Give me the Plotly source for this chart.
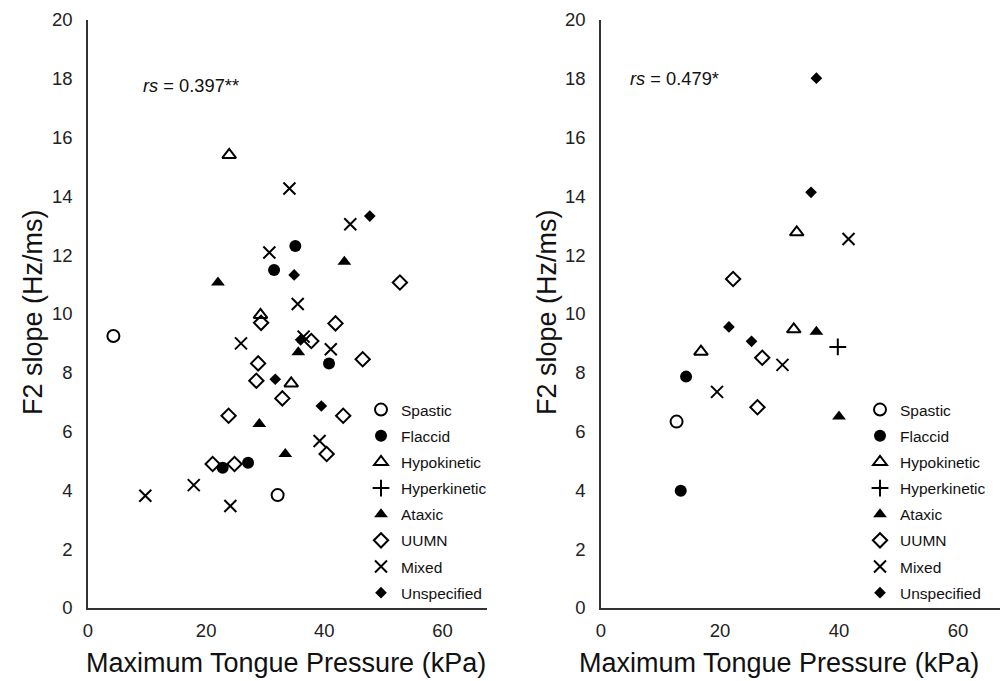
import plotly.graph_objects as go

categories = ["Spastic", "Flaccid", "Hypokinetic", "Hyperkinetic", "Ataxic", "UUMN", "Mixed", "Unspecified"]
symbols = ["circle-open", "circle", "triangle-up-open", "cross-thin-open", "triangle-up", "diamond-open", "x-thin-open", "diamond"]
sizes = [12, 12, 12, 12, 12, 11, 12, 9]

# Left panel (x: Maximum Tongue Pressure, y: F2 slope)
left_x = {
    "Spastic": [4.3, 32.1],
    "Flaccid": [35.1, 31.5, 40.8, 22.8, 27.1],
    "Hypokinetic": [23.9, 29.2, 34.4],
    "Hyperkinetic": [],
    "Ataxic": [22.0, 43.4, 35.6, 29.0, 33.4],
    "UUMN": [29.3, 41.9, 37.8, 46.5, 28.8, 28.5, 32.9, 43.2, 23.8, 40.4, 21.1, 24.8, 52.8],
    "Mixed": [34.1, 30.7, 35.5, 25.9, 36.5, 41.1, 39.2, 17.9, 24.1, 9.7, 44.4],
    "Unspecified": [34.9, 47.7, 36.0, 31.7, 39.5],
}
left_y = {
    "Spastic": [9.25, 3.84],
    "Flaccid": [12.31, 11.50, 8.32, 4.77, 4.94],
    "Hypokinetic": [15.41, 9.97, 7.64],
    "Hyperkinetic": [],
    "Ataxic": [11.07, 11.78, 8.70, 6.26, 5.24],
    "UUMN": [9.70, 9.68, 9.08, 8.46, 8.32, 7.73, 7.13, 6.54, 6.54, 5.24, 4.90, 4.90, 11.07],
    "Mixed": [14.27, 12.09, 10.34, 9.00, 9.23, 8.80, 5.68, 4.18, 3.47, 3.82, 13.05],
    "Unspecified": [11.33, 13.33, 9.12, 7.78, 6.87],
}

# Right panel
right_x = {
    "Spastic": [12.7],
    "Flaccid": [14.3, 13.4],
    "Hypokinetic": [32.9, 32.4, 16.8],
    "Hyperkinetic": [39.8],
    "Ataxic": [36.2, 40.0],
    "UUMN": [22.2, 27.1, 26.3],
    "Mixed": [41.6, 30.5, 19.5],
    "Unspecified": [36.2, 35.3, 21.5, 25.3],
}
right_y = {
    "Spastic": [6.34],
    "Flaccid": [7.87, 3.99],
    "Hypokinetic": [12.78, 9.48, 8.72],
    "Hyperkinetic": [8.88],
    "Ataxic": [9.40, 6.51],
    "UUMN": [11.19, 8.51, 6.83],
    "Mixed": [12.55, 8.27, 7.35],
    "Unspecified": [18.02, 14.14, 9.56, 9.07],
}

y_ticks = [0, 2, 4, 6, 8, 10, 12, 14, 16, 18, 20]
x_ticks = [0, 20, 40, 60]
rs_texts = ["<i>rs</i> = 0.397**", "<i>rs</i> = 0.479*"]
x_title = "Maximum Tongue Pressure (kPa)"
y_title = "F2 slope (Hz/ms)"

FONT = "Liberation Sans, Arial, sans-serif"
W, H = 1000, 681

def py(p):
    return 1 - p / H

fig = go.Figure()

for panel, (xs, ys, xa, ya, lg) in enumerate([
    (left_x, left_y, "x", "y", "legend"),
    (right_x, right_y, "x2", "y2", "legend2"),
]):
    for i, c in enumerate(categories):
        xv = xs[c] if xs[c] else [None]
        yv = ys[c] if ys[c] else [None]
        open_sym = symbols[i].endswith("open")
        fig.add_trace(go.Scatter(
            x=xv, y=yv, mode="markers", name=c,
            xaxis=xa, yaxis=ya, legend=lg, legendgroup=f"{panel}-{c}",
            marker=dict(symbol=symbols[i], size=sizes[i], color="black",
                        line=dict(color="black", width=2 if open_sym else 0)),
            showlegend=True,
        ))

axis_common = dict(showgrid=False, zeroline=False, showline=True, linecolor="#333333",
                   linewidth=1.5, ticks="", tickfont=dict(family=FONT, size=18.5, color="#222222"),
                   automargin=False)

legend_common = dict(xanchor="left", yanchor="top",
                     font=dict(family=FONT, size=15.5, color="#111111"),
                     tracegroupgap=3, bgcolor="rgba(0,0,0,0)", itemwidth=30)

fig.update_layout(
    width=W, height=H,
    margin=dict(l=0, r=0, t=0, b=0),
    paper_bgcolor="white", plot_bgcolor="white",
    font=dict(family=FONT),
    xaxis=dict(domain=[0.088, 0.4865], range=[0, 67.46], tickvals=x_ticks, anchor="y",
               ticklabelstandoff=5, **axis_common),
    yaxis=dict(domain=[py(608), py(20)], range=[0, 20], tickvals=y_ticks, anchor="x",
               ticklabelstandoff=10, **axis_common),
    xaxis2=dict(domain=[0.601, 1.0], range=[0, 67.06], tickvals=x_ticks, anchor="y2",
                ticklabelstandoff=5, **axis_common),
    yaxis2=dict(domain=[py(608), py(20)], range=[0, 20], tickvals=y_ticks, anchor="x2",
                ticklabelstandoff=10, **axis_common),
    legend=dict(x=0.361, y=py(393), **legend_common),
    legend2=dict(x=0.860, y=py(393), **legend_common),
)

ann = []
ann.append(dict(text=rs_texts[0], x=141 / W, y=py(86), xref="paper", yref="paper",
                xanchor="left", yanchor="middle", showarrow=False,
                font=dict(family=FONT, size=18.3, color="#111111")))
ann.append(dict(text=rs_texts[1], x=628 / W, y=py(78), xref="paper", yref="paper",
                xanchor="left", yanchor="middle", showarrow=False,
                font=dict(family=FONT, size=18.3, color="#111111")))
ann.append(dict(text=x_title, x=286 / W, y=py(663), xref="paper", yref="paper",
                xanchor="center", yanchor="middle", showarrow=False,
                font=dict(family=FONT, size=27, color="#111111")))
ann.append(dict(text=x_title, x=779 / W, y=py(663), xref="paper", yref="paper",
                xanchor="center", yanchor="middle", showarrow=False,
                font=dict(family=FONT, size=27, color="#111111")))
ann.append(dict(text=y_title, x=33 / W, y=py(312), xref="paper", yref="paper",
                xanchor="center", yanchor="middle", showarrow=False, textangle=-90,
                font=dict(family=FONT, size=27, color="#111111")))
ann.append(dict(text=y_title, x=547 / W, y=py(312), xref="paper", yref="paper",
                xanchor="center", yanchor="middle", showarrow=False, textangle=-90,
                font=dict(family=FONT, size=27, color="#111111")))
fig.update_layout(annotations=ann)

fig.write_html("out.html", config={"displayModeBar": False},
               post_script="document.body.style.margin='0';")
